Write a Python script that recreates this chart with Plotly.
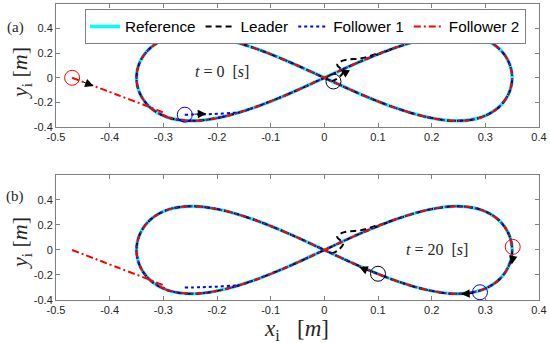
import plotly.graph_objects as go
from plotly.subplots import make_subplots

# ---------------- data ----------------
# reference figure-eight path, traversed from the crossing point
ref_x = [0.000, 0.068, 0.134, 0.195, 0.247, 0.291, 0.323, 0.343, 0.350,
         0.343, 0.323, 0.291, 0.247, 0.195, 0.134, 0.068, 0.000,
         -0.068, -0.134, -0.195, -0.247, -0.291, -0.323, -0.343, -0.350,
         -0.343, -0.323, -0.291, -0.247, -0.195, -0.134, -0.068, 0.000]
ref_y = [0.000, 0.134, 0.247, 0.323, 0.350, 0.323, 0.247, 0.134, 0.000,
         -0.134, -0.247, -0.323, -0.350, -0.323, -0.247, -0.134, 0.000,
         0.134, 0.247, 0.323, 0.350, 0.323, 0.247, 0.134, 0.000,
         -0.134, -0.247, -0.323, -0.350, -0.323, -0.247, -0.134, 0.000]

# transient parts before each agent joins the reference
leader_init_x = [0.013, 0.026, 0.035, 0.024, 0.032, 0.047, 0.064, 0.080, 0.095, 0.110]
leader_init_y = [-0.030, 0.000, 0.050, 0.105, 0.135, 0.150, 0.155, 0.170, 0.192, 0.209]
leader_join = 2

f1_init_x = [-0.260, -0.230, -0.200, -0.170, -0.155]
f1_init_y = [-0.300, -0.298, -0.293, -0.285, -0.278]
f1_join = 30

f2_init_x = [-0.470, -0.385, -0.310, -0.298, -0.300]
f2_init_y = [0.000, -0.140, -0.265, -0.290, -0.312]
f2_join = 27

# agent positions (leader, follower 1, follower 2)
pos_t0_x = [0.017, -0.260, -0.470]
pos_t0_y = [-0.030, -0.300, 0.000]
pos_t20_x = [0.100, 0.290, 0.351]
pos_t20_y = [-0.190, -0.338, 0.025]

x_ticks = [-0.5, -0.4, -0.3, -0.2, -0.1, 0, 0.1, 0.2, 0.3, 0.4]
x_tick_text = ["-0.5", "-0.4", "-0.3", "-0.2", "-0.1", "0", "0.1", "0.2", "0.3", "0.4"]
y_ticks = [-0.4, -0.2, 0, 0.2, 0.4]
y_tick_text = ["-0.4", "-0.2", "0", "0.2", "0.4"]

names = ["Reference", "Leader", "Follower 1", "Follower 2"]
agent_colors = ["#000000", "#0000FF", "#FF0000"]


def full_path(ix, iy, j):
    xs = ix + ref_x[j:] + ref_x[1:j + 1]
    ys = iy + ref_y[j:] + ref_y[1:j + 1]
    return xs, ys


leader_x, leader_y = full_path(leader_init_x, leader_init_y, leader_join)
f1_x, f1_y = full_path(f1_init_x, f1_init_y, f1_join)
f2_x, f2_y = full_path(f2_init_x, f2_init_y, f2_join)

# ---------------- figure ----------------
fig = make_subplots(rows=2, cols=1, vertical_spacing=0.0)

for r in (1, 2):
    show = (r == 1)
    fig.add_trace(go.Scatter(x=ref_x, y=ref_y, mode="lines", name=names[0],
                             line=dict(color="#00FFFF", width=3.5, shape="spline"),
                             showlegend=show, legendgroup="ref"), row=r, col=1)
    fig.add_trace(go.Scatter(x=leader_x, y=leader_y, mode="lines", name=names[1],
                             line=dict(color="#000000", width=2, dash="6px,4px", shape="spline"),
                             showlegend=show, legendgroup="lead"), row=r, col=1)
    fig.add_trace(go.Scatter(x=f1_x, y=f1_y, mode="lines", name=names[2],
                             line=dict(color="#0000FF", width=2, dash="dot", shape="spline"),
                             showlegend=show, legendgroup="f1"), row=r, col=1)
    fig.add_trace(go.Scatter(x=f2_x, y=f2_y, mode="lines", name=names[3],
                             line=dict(color="#FF0000", width=2, dash="7px,3px,2px,3px", shape="spline"),
                             showlegend=show, legendgroup="f2"), row=r, col=1)

fig.add_trace(go.Scatter(x=pos_t0_x, y=pos_t0_y, mode="markers", showlegend=False,
                         marker=dict(symbol="circle-open", size=15,
                                     color=agent_colors, line=dict(width=1))),
              row=1, col=1)
fig.add_trace(go.Scatter(x=pos_t20_x, y=pos_t20_y, mode="markers", showlegend=False,
                         marker=dict(symbol="circle-open", size=15,
                                     color=agent_colors, line=dict(width=1))),
              row=2, col=1)

axis_col = "#808080"
for r in (1, 2):
    fig.update_xaxes(range=[-0.5, 0.4], tickvals=x_ticks, ticktext=x_tick_text,
                     ticks="inside", ticklen=4, tickcolor=axis_col, mirror="ticks",
                     showline=True, linecolor=axis_col, linewidth=1, showgrid=False,
                     zeroline=False, tickfont=dict(family="Liberation Sans", size=11, color="#262626"),
                     row=r, col=1)
    fig.update_yaxes(range=[-0.4, 0.6], tickvals=y_ticks, ticktext=y_tick_text,
                     ticks="inside", ticklen=4, tickcolor=axis_col, mirror="ticks",
                     showline=True, linecolor=axis_col, linewidth=1, showgrid=False,
                     zeroline=False, tickfont=dict(family="Liberation Sans", size=11, color="#262626"),
                     row=r, col=1)

fig.update_layout(
    xaxis=dict(domain=[0, 1]), yaxis=dict(domain=[0.5845, 1.0]),
    xaxis2=dict(domain=[0, 1]), yaxis2=dict(domain=[0.0, 0.4223]),
)

serif = "Liberation Serif"
annotations = []
# arrows (tip x,y ; tail ax,ay)
arrows = [
    ("x", "y", 0.030, 0.068, 0.045, 0.028),
    ("x", "y", -0.430, -0.066, -0.452, -0.030),
    ("x", "y", -0.220, -0.292, -0.245, -0.296),
    ("x2", "y2", 0.065, -0.135, 0.085, -0.172),
    ("x2", "y2", 0.349, -0.115, 0.351, -0.070),
    ("x2", "y2", 0.255, -0.352, 0.280, -0.346),
]
for xr, yr, x, y, ax, ay in arrows:
    annotations.append(dict(x=x, y=y, ax=ax, ay=ay, xref=xr, yref=yr,
                            axref=xr, ayref=yr, text="", showarrow=True,
                            arrowhead=2, arrowsize=1.7, arrowwidth=1,
                            arrowcolor="#000000", standoff=0, startstandoff=0))


def paper_text(px, py, text, size, angle=0):
    return dict(x=(px - 56) / 483, y=(300 - py) / 296, xref="paper", yref="paper",
                xanchor="center", yanchor="middle", showarrow=False, textangle=angle,
                borderpad=0,
                text=text, font=dict(family=serif, size=size, color="#262626"))


annotations += [
    dict(x=-0.19, y=0.05, xref="x", yref="y", showarrow=False,
         xanchor="center", yanchor="middle",
         text="<i>t</i> = 0  [<i>s</i>]", font=dict(family=serif, size=16, color="#262626")),
    dict(x=0.21, y=0.0, xref="x2", yref="y2", showarrow=False,
         xanchor="center", yanchor="middle",
         text="<i>t</i> = 20  [<i>s</i>]", font=dict(family=serif, size=16, color="#262626")),
    paper_text(15, 28, "(a)", 15),
    paper_text(15, 197, "(b)", 15),
    paper_text(21, 73, "<i>y</i><sub>i</sub> [<i>m</i>]", 22, -90),
    paper_text(21, 243, "<i>y</i><sub>i</sub> [<i>m</i>]", 22, -90),
    paper_text(296, 330, "<i>x</i><sub>i</sub>   [<i>m</i>]", 23),
]

fig.update_layout(
    width=550, height=343,
    margin=dict(l=56, r=11, t=4, b=43),
    plot_bgcolor="white", paper_bgcolor="white",
    annotations=annotations,
    legend=dict(orientation="h", x=(85 - 56) / 483, y=(300 - 9) / 296,
                xanchor="left", yanchor="top",
                bgcolor="white", bordercolor="#808080", borderwidth=1,
                font=dict(family="Liberation Sans", size=15.3, color="#000000"),
                tracegroupgap=0, itemwidth=30),
)

fig.write_html("out.html", config={"displayModeBar": False},
               post_script="document.body.style.margin='0';document.body.style.padding='0';")
